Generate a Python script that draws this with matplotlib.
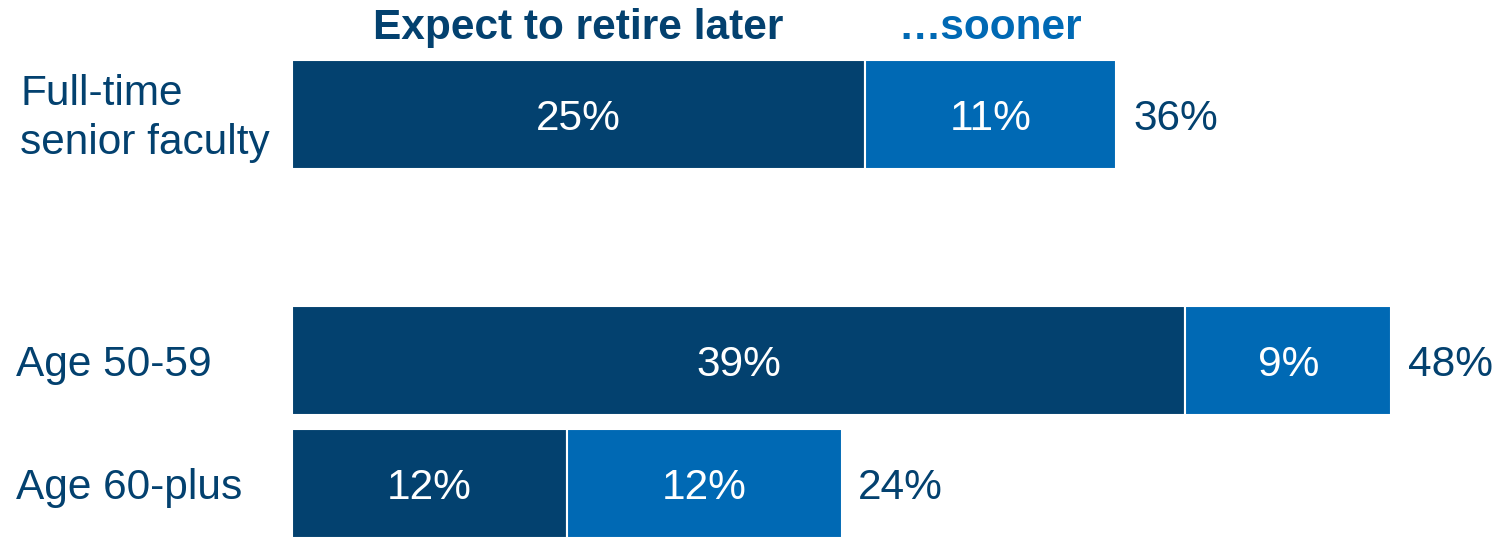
import matplotlib
matplotlib.use("Agg")
import matplotlib.pyplot as plt

# data
groups = ["Full-time\nsenior faculty", "Age 50-59", "Age 60-plus"]
positions = [0, 2, 3]
later = [25, 39, 12]
sooner = [11, 9, 12]
totals = [36, 48, 24]

dark = "#03416F"
light = "#0069B4"

plt.rcParams['font.family'] = ['Liberation Sans', 'DejaVu Sans']

fig = plt.figure(figsize=(14.98, 5.37), dpi=100)
ax = fig.add_axes([0, 0, 1, 1])

h = 0.886
ax.barh(positions, later, height=h, color=dark, edgecolor="white", linewidth=1.5)
ax.barh(positions, sooner, left=later, height=h, color=light, edgecolor="white", linewidth=1.5)

fs = 30.5
dy = -3  # nudge text down a little, like the original
for p, a, b, t, g in zip(positions, later, sooner, totals, groups):
    ax.annotate(f"{a}%", (a / 2, p), xytext=(0, dy), textcoords="offset points",
                ha="center", va="center", color="white", fontsize=fs)
    ax.annotate(f"{b}%", (a + b / 2, p), xytext=(0, dy), textcoords="offset points",
                ha="center", va="center", color="white", fontsize=fs)
    ax.annotate(f"{t}%", (a + b, p), xytext=(12, dy), textcoords="offset points",
                ha="left", va="center", color=dark, fontsize=fs)
    xl = 0.0134 if "\n" in g else 0.0107
    ax.annotate(g, (xl, p), xycoords=ax.get_yaxis_transform(), xytext=(0, dy),
                textcoords="offset points", ha="left", va="center",
                color=dark, fontsize=fs, linespacing=1.3)

# column headers
ax.text(later[0] / 2, -0.70, "Expect to retire later", ha="center", va="center",
        color=dark, fontsize=fs, fontweight="bold")
ax.text(later[0] + sooner[0] / 2, -0.70, "\u2026sooner", ha="center", va="center",
        color=light, fontsize=fs, fontweight="bold")

ax.set_xlim(-12.75, 52.66)
ax.set_ylim(3.435, -0.931)
ax.axis("off")

fig.savefig("out.png", dpi=100)
